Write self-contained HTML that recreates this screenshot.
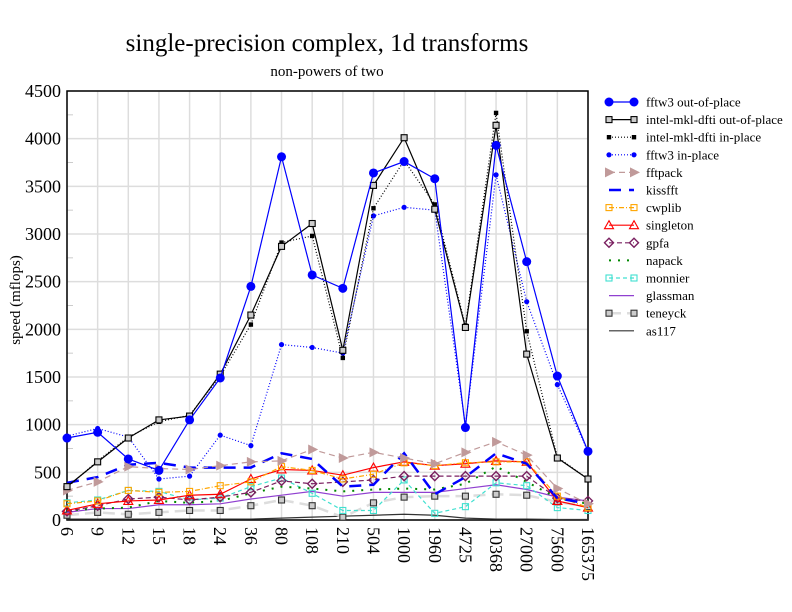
<!DOCTYPE html><html><head><meta charset="utf-8"><style>body{margin:0;background:#fff}svg{display:block;font-family:"Liberation Serif",serif}</style></head><body>
<svg id="s" width="792" height="612" xmlns="http://www.w3.org/2000/svg"></svg>
<script>
const s=document.getElementById('s');let h='';
const L=67,R=588,T=91,B=520;
const X=i=>L+i*(R-L)/17, Y=v=>B-v*(B-T)/4500;
const cats=[6,9,12,15,18,24,36,80,108,210,504,1000,1960,4725,10368,27000,75600,165375];
h+=`<text x="327" y="51" font-size="25" text-anchor="middle">single-precision complex, 1d transforms</text>`;
h+=`<text x="327" y="76" font-size="15" text-anchor="middle">non-powers of two</text>`;
h+=`<text transform="translate(20,300) rotate(-90)" font-size="15" text-anchor="middle">speed (mflops)</text>`;
for(let i=0;i<18;i++){h+=`<line x1="${X(i)}" y1="${T}" x2="${X(i)}" y2="${B}" stroke="#ddd" stroke-width="1.5"/>`;
h+=`<text transform="translate(${X(i)-6},527) rotate(90)" font-size="18">${cats[i]}</text>`;}
for(let v=0;v<=4500;v+=500){h+=`<line x1="${L}" y1="${Y(v)}" x2="${R}" y2="${Y(v)}" stroke="#ddd" stroke-width="1.5"/>`;
h+=`<text x="61" y="${Y(v)+6}" font-size="18" text-anchor="end">${v}</text>`;
if(v<4500)h+=`<line x1="${L}" y1="${Y(v+250)}" x2="${L+6}" y2="${Y(v+250)}" stroke="#ccc"/>`;}
h+=`<rect x="${L}" y="${T}" width="${R-L}" height="${B-T}" fill="none" stroke="#000" stroke-width="1.5"/>`;
function mk(m,x,y,c){
 if(m=='dot')return `<circle cx="${x}" cy="${y}" r="4.5" fill="${c}"/>`;
 if(m=='sdot')return `<circle cx="${x}" cy="${y}" r="2.6" fill="${c}"/>`;
 if(m=='sq')return `<rect x="${x-3}" y="${y-3}" width="6" height="6" fill="#ccc" stroke="${c}" stroke-width="1.1"/>`;
 if(m=='sqw')return `<rect x="${x-3}" y="${y-3}" width="6" height="6" fill="none" stroke="${c}" stroke-width="1.1"/>`;
 if(m=='fsq')return `<rect x="${x-2.2}" y="${y-2.2}" width="4.4" height="4.4" fill="${c}"/>`;
 if(m=='tri')return `<polygon points="${x-4},${y-5} ${x+6},${y} ${x-4},${y+5}" fill="${c}"/>`;
 if(m=='utri')return `<polygon points="${x},${y-4.5} ${x+4.5},${y+3.5} ${x-4.5},${y+3.5}" fill="none" stroke="${c}" stroke-width="1.1"/>`;
 if(m=='dia')return `<polygon points="${x},${y-4.5} ${x+4.5},${y} ${x},${y+4.5} ${x-4.5},${y}" fill="none" stroke="${c}" stroke-width="1.4"/>`;
 return '';}
const S=[
["fftw3 out-of-place","#00f","",1.2,"dot",[860,920,640,520,1050,1490,2450,3810,2570,2430,3640,3760,3580,970,3930,2710,1510,720]],
["intel-mkl-dfti out-of-place","#000","",1.2,"sq",[350,610,860,1050,1090,1530,2150,2870,3110,1780,3510,4010,3260,2020,4140,1740,650,430]],
["intel-mkl-dfti in-place","#000","1,2",1.2,"fsq",[340,620,870,1030,1100,1510,2050,2910,2980,1700,3270,3770,3310,2040,4270,1980,660,430]],
["fftw3 in-place","#00f","1,2",1.2,"sdot",[880,960,870,430,460,890,780,1840,1810,1750,3190,3280,3250,990,3620,2290,1420,720]],
["fftpack","#c09a9a","6,4",1.2,"tri",[310,400,560,540,530,570,610,620,740,650,710,650,590,710,820,680,330,170]],
["kissfft","#00f","12,8",2.5,"",[390,450,580,600,550,550,550,700,640,350,370,700,270,450,700,590,230,170]],
["cwplib","#ffa500","5,2,1,2",1.2,"sqw",[170,200,310,290,300,360,400,560,520,430,480,600,570,600,610,610,250,130]],
["singleton","#f00","",1.2,"utri",[100,170,200,210,260,270,430,530,520,470,550,610,570,590,620,610,200,130]],
["gpfa","#7a2060","5,3",1.2,"dia",[90,150,220,240,210,240,290,410,380,400,420,460,460,460,460,460,230,200]],
["napack","#080","2,7",2,"",[100,120,130,200,180,200,280,350,330,300,320,330,320,380,560,400,230,170]],
["monnier","#40e0d0","4,3",1.2,"sqw",[180,210,310,300,210,230,350,440,280,100,100,420,70,140,390,360,130,100]],
["glassman","#9040d0","",1.2,"",[80,120,120,160,160,170,220,260,300,250,290,290,290,330,370,320,240,200]],
["teneyck","#ddd","12,6",2.5,"sq2",[50,80,60,80,100,100,150,210,150,30,180,240,250,250,270,260,190,140]],
["as117","#333","",1.2,"",[10,10,10,10,10,10,10,20,30,40,50,60,50,20,10,10,5,5]]];
S.slice().reverse().forEach(([n,c,d,w,m,v])=>{
 h+=`<polyline fill="none" stroke="${c}" stroke-width="${w}" ${d?`stroke-dasharray="${d}"`:''} points="${v.map((y,i)=>X(i)+','+Y(y)).join(' ')}"/>`;
 v.forEach((y,i)=>{h+= m=='sq2'?mk('sq',X(i),Y(y),'#333'):mk(m,X(i),Y(y),c);});});
S.forEach(([n,c,d,w,m,v],k)=>{const y=102+k*17.6;
 h+=`<line x1="609" y1="${y}" x2="634" y2="${y}" stroke="${c}" stroke-width="${w}" ${d?`stroke-dasharray="${d}"`:''}/>`;
 const mm=m=='sq2'?'sq':m, cc=m=='sq2'?'#333':c;
 if(m&&m!='')h+=mk(mm,609,y,cc)+mk(mm,634,y,cc);
 h+=`<text x="646" y="${y+4.5}" font-size="13">${n}</text>`;});
s.innerHTML=h;
</script></body></html>
